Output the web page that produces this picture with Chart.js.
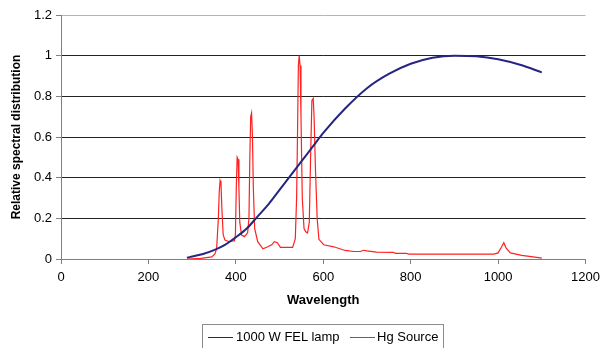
<!DOCTYPE html>
<html>
<head>
<meta charset="utf-8">
<script src="https://cdn.jsdelivr.net/npm/chart.js@4/dist/chart.umd.min.js"></script>
<style>
  body { margin: 0; background: #fff; }
  #wrap { position: relative; width: 606px; height: 348px; overflow: hidden; }
  #legend {
    position: absolute; left: 202px; top: 324px; width: 240px; height: 28px;
    border: 1px solid #8c8c8c; font: 13px "Liberation Sans", Arial, sans-serif; color: #000;
  }
  #legend .sw { position: absolute; top: 12px; width: 25px; height: 1px; }
  #legend .tx { position: absolute; top: 4px; white-space: nowrap; }
</style>
</head>
<body>
<div id="wrap">
  <canvas id="specChart" width="606" height="348"></canvas>
  <div id="legend">
    <span class="sw" style="left:5px;background:#262680"></span>
    <span class="tx" style="left:33px">1000 W FEL lamp</span>
    <span class="sw" style="left:147px;background:#ff2020"></span>
    <span class="tx" style="left:174px">Hg Source</span>
  </div>
</div>
<script>
// FEL lamp curve
const felWavelength = [288, 300, 325, 350, 375, 400, 425, 450, 475, 500, 525, 550, 575, 600, 650, 700, 750, 800, 850, 900, 950, 1000, 1050, 1100];
const felValue      = [0.006, 0.012, 0.025, 0.044, 0.07, 0.107, 0.15, 0.21, 0.27, 0.34, 0.41, 0.48, 0.55, 0.62, 0.74, 0.84, 0.91, 0.96, 0.99, 1.0, 0.997, 0.982, 0.955, 0.918];

// Hg source spectrum
const hgWavelength = [290, 320, 345, 352, 356, 360, 362, 364, 366, 368, 371, 375, 385, 397, 399, 401, 403, 405, 407, 409, 413, 420, 427, 430, 432, 434, 436, 438, 440, 443, 450, 462, 473, 482, 488, 495, 502, 530, 536, 539, 541, 543, 545, 547, 549, 552, 556, 560, 564, 568, 571, 574, 577, 579, 582, 586, 590, 601, 624, 650, 670, 685, 692, 700, 722, 760, 765, 790, 795, 990, 1000, 1008, 1013, 1018, 1028, 1054, 1080, 1100];
const hgValue      = [0.0, 0.003, 0.01, 0.025, 0.05, 0.2, 0.33, 0.385, 0.37, 0.25, 0.12, 0.093, 0.085, 0.09, 0.12, 0.35, 0.5, 0.49, 0.35, 0.18, 0.118, 0.11, 0.13, 0.2, 0.5, 0.7, 0.718, 0.6, 0.35, 0.15, 0.085, 0.05, 0.06, 0.07, 0.085, 0.08, 0.057, 0.057, 0.1, 0.3, 0.6, 0.95, 1.0, 0.95, 0.7, 0.3, 0.15, 0.134, 0.128, 0.18, 0.5, 0.78, 0.79, 0.7, 0.45, 0.2, 0.097, 0.07, 0.06, 0.042, 0.037, 0.037, 0.043, 0.04, 0.034, 0.033, 0.028, 0.028, 0.024, 0.024, 0.03, 0.06, 0.08, 0.055, 0.03, 0.018, 0.01, 0.004];

const xTicks = [0, 200, 400, 600, 800, 1000, 1200];
const yTicks = [0, 0.2, 0.4, 0.6, 0.8, 1, 1.2];

const toPoints = (xs, ys) => xs.map((x, i) => ({ x: x, y: ys[i] }));
const fontFam = '"Liberation Sans", Arial, sans-serif';

new Chart(document.getElementById('specChart').getContext('2d'), {
    type: 'line',
    data: {
        datasets: [{
            label: '1000 W FEL lamp',
            data: toPoints(felWavelength, felValue),
            borderColor: '#262680',
            borderWidth: 2,
            pointRadius: 0,
            cubicInterpolationMode: 'monotone'
        }, {
            label: 'Hg Source',
            data: toPoints(hgWavelength, hgValue),
            borderColor: '#ff2020',
            borderWidth: 1.2,
            pointRadius: 0,
            tension: 0
        }]
    },
    options: {
        responsive: false,
        animation: false,
        layout: { padding: { left: 0, right: 15, top: 15, bottom: 36 } },
        plugins: { legend: { display: false }, tooltip: { enabled: false } },
        scales: {
            x: {
                type: 'linear',
                min: 0, max: 1200,
                afterBuildTicks: s => { s.ticks = xTicks.map(v => ({ value: v })); },
                afterFit: s => { s.height = 53; },
                grid: { drawOnChartArea: false, drawTicks: true, tickLength: 5, color: '#808080' },
                border: { color: '#808080', width: 1 },
                ticks: { padding: 6, color: '#000', font: { family: fontFam, size: 13 }, maxRotation: 0,
                         callback: v => String(v) },
                title: { display: true, text: 'Wavelength', color: '#000', padding: { top: 0, bottom: 4 },
                         font: { family: fontFam, size: 13, weight: 'bold' } }
            },
            y: {
                min: 0, max: 1.2,
                afterBuildTicks: s => { s.ticks = yTicks.map(v => ({ value: v })); },
                afterFit: s => { s.width = 61; },
                grid: {
                    tickLength: 5,
                    color: ctx => ctx.tick && ctx.tick.value === 1.2 ? '#b4b4b4' : '#222',
                    tickColor: '#808080'
                },
                border: { color: '#808080', width: 1 },
                ticks: { padding: 4, color: '#000', font: { family: fontFam, size: 13 },
                         callback: v => String(Math.round(v * 10) / 10) },
                title: { display: true, text: 'Relative spectral distribution', color: '#000', padding: { top: 9, bottom: 0 },
                         font: { family: fontFam, size: 12, weight: 'bold' } }
            }
        }
    }
});
</script>
</body>
</html>
